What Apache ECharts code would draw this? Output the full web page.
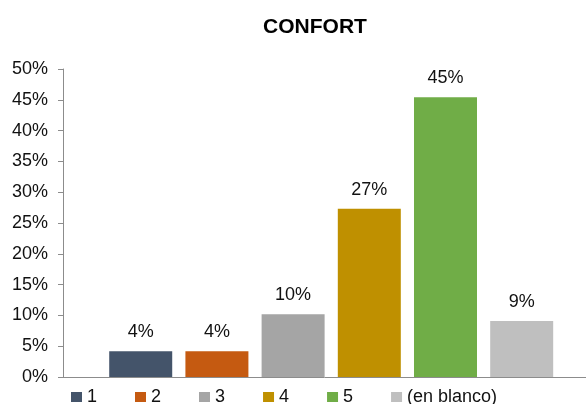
<!DOCTYPE html>
<html>
<head>
<meta charset="utf-8">
<script src="https://cdn.jsdelivr.net/npm/echarts@6/dist/echarts.min.js"></script>
<style>
    html, body { margin: 0; padding: 0; background: #fff; }
    #chart { width: 586px; height: 404px; }
</style>
</head>
<body>
<div id="chart"></div>
<script>
// categories and values (percent)
var categories = ['1', '2', '3', '4', '5', '(en blanco)'];
var values = [4.2, 4.2, 10.2, 27.3, 45.4, 9.1];
var colors = ['#44546A', '#C55A11', '#A5A5A5', '#BF9000', '#70AD47', '#BFBFBF'];
var yTicks = { min: 0, max: 50, step: 5 };

var myChart = echarts.init(document.getElementById('chart'));

var series = [];
for (var i = 0; i < categories.length; i++) {
    series.push({
        name: categories[i],
        type: 'bar',
        barWidth: 63,
        barGap: '-100%',
        itemStyle: { color: colors[i] },
        label: {
            show: true,
            position: 'top',
            distance: 10,
            fontFamily: 'Liberation Sans, Arial',
            fontSize: 18,
            color: '#111',
            formatter: function (p) {
                return Math.round(p.value[1]) + '%';
            }
        },
        data: [[i, values[i]]]
    });
}

var option = {
    animation: false,
    title: {
        text: 'CONFORT',
        left: 310,
        top: 12,
        textAlign: 'center',
        textStyle: {
            fontFamily: 'Liberation Sans, Arial',
            fontSize: 21,
            fontWeight: 'bold',
            color: '#000'
        }
    },
    legend: {
        data: categories,
        left: 71,
        top: 388,
        padding: 0,
        icon: 'rect',
        itemWidth: 11,
        itemHeight: 10,
        itemGap: 38,
        textStyle: {
            fontFamily: 'Liberation Sans, Arial',
            fontSize: 18,
            color: '#111'
        }
    },
    grid: { left: 63, right: 0, top: 69, bottom: 27 },
    xAxis: {
        type: 'value',
        min: -1.02,
        max: 5.844,
        axisLine: { show: true, onZero: false, lineStyle: { color: '#8c8c8c', width: 1 } },
        axisTick: { show: false },
        axisLabel: { show: false },
        splitLine: { show: false }
    },
    yAxis: {
        type: 'value',
        min: yTicks.min,
        max: yTicks.max,
        interval: yTicks.step,
        axisLine: { show: true, onZero: false, lineStyle: { color: '#8c8c8c', width: 1 } },
        axisTick: { show: true, length: 5, lineStyle: { color: '#8c8c8c' } },
        splitLine: { show: false },
        axisLabel: {
            margin: 15,
            fontFamily: 'Liberation Sans, Arial',
            fontSize: 18,
            color: '#111',
            formatter: '{value}%'
        }
    },
    series: series
};

myChart.setOption(option);
</script>
</body>
</html>
